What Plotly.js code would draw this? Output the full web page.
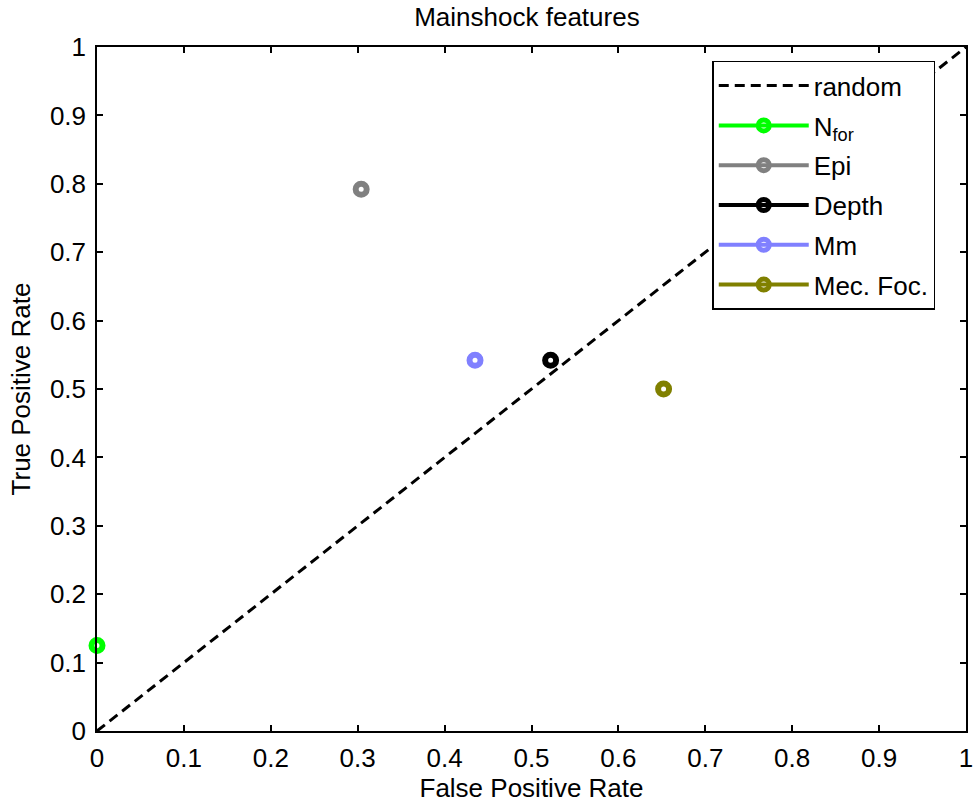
<!DOCTYPE html>
<html>
<head>
<meta charset="utf-8">
<script src="https://cdn.plot.ly/plotly-3.0.1.min.js"></script>
<style>html,body{margin:0;padding:0;background:#fff;}#chart{width:974px;height:807px;}</style>
</head>
<body>
<div id="chart"></div>
<script>
// Data
const seriesNames = ["N<sub>for</sub>", "Epi", "Depth", "Mm", "Mec. Foc."];
const fpr = [0, 0.304, 0.522, 0.435, 0.652];
const tpr = [0.125, 0.792, 0.542, 0.542, 0.5];
const colors = ["#00ff00", "#808080", "#000000", "#8080ff", "#808000"];
const randomX = [0, 1];
const randomY = [0, 1];
const tickVals = [0, 0.1, 0.2, 0.3, 0.4, 0.5, 0.6, 0.7, 0.8, 0.9, 1];
const tickText = ["0", "0.1", "0.2", "0.3", "0.4", "0.5", "0.6", "0.7", "0.8", "0.9", "1"];

const traces = [{
  x: randomX, y: randomY, mode: "lines", name: "random", legendgroup: "g0",
  line: {color: "#000", width: 3, dash: "10px,6px"}, cliponaxis: false
}];
seriesNames.forEach((n, i) => {
  traces.push({
    x: [fpr[i]], y: [tpr[i]], mode: "lines+markers", name: n, legendgroup: "g" + (i + 1),
    line: {color: colors[i], width: 4},
    marker: {symbol: "circle-open", size: 11, color: colors[i], line: {width: 6, color: colors[i]}},
    cliponaxis: false
  });
});

const font = "Liberation Sans, Arial, sans-serif";
function axis(titleText, standoff, labelStandoff) {
  return {
    range: [0, 1], tickvals: tickVals, ticktext: tickText, tickmode: "array",
    showline: true, linecolor: "#000", linewidth: 1.5, mirror: "ticks",
    ticks: "inside", ticklen: 6, tickcolor: "#000", tickwidth: 1.5,
    ticklabelstandoff: labelStandoff,
    showgrid: false, zeroline: false,
    tickfont: {family: font, size: 26, color: "#000"},
    title: {text: titleText, font: {family: font, size: 26, color: "#000"}, standoff: standoff}
  };
}

const layout = {
  width: 974, height: 807,
  margin: {l: 97, r: 8, t: 47, b: 76},
  paper_bgcolor: "#fff", plot_bgcolor: "#fff",
  font: {family: font, size: 26, color: "#000"},
  title: {text: "Mainshock features", font: {family: font, size: 26, color: "#000"}, x: 0.541, xanchor: "center", y: 0.99, yanchor: "top"},
  xaxis: axis("False Positive Rate", 2, 3),
  yaxis: axis("True Positive Rate", 12, 4),
  showlegend: true,
  legend: {
    x: 0.708, y: 0.98, xanchor: "left", yanchor: "top",
    bgcolor: "#fff", bordercolor: "#000", borderwidth: 1.5,
    font: {family: font, size: 26, color: "#000"}, itemwidth: 90, tracegroupgap: 3
  }
};

Plotly.newPlot("chart", traces, layout, {displayModeBar: false});
</script>
</body>
</html>
